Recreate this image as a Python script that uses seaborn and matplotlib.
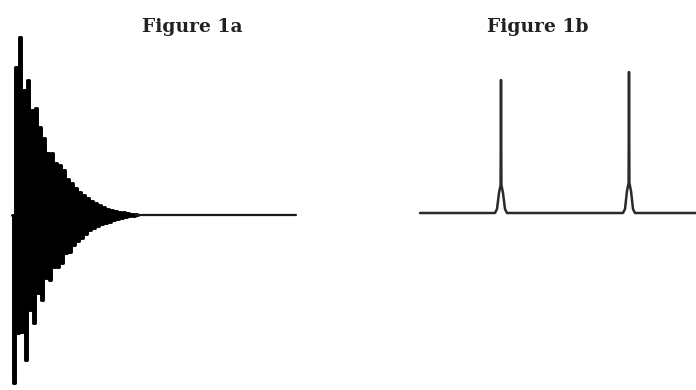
import numpy as np
import matplotlib
matplotlib.use("Agg")
import matplotlib.pyplot as plt
import seaborn as sns

sns.set_theme(style="white")

# Figure 1a: alternating extremes of the decaying signal (amplitude)
fid_values = [0, -168, 148, -118, 178, -117, 125, -145, 135, -95, 105, -108, 107, -78,
              88, -85, 77, -63, 62, -65, 62, -52, 52, -52, 50, -48, 45, -38, 36, -37,
              32, -30, 27, -26, 23, -23, 20, -19, 17, -15, 14, -13, 12, -11, 10, -9,
              8, -8, 6, -7, 5, -5, 4, -4, 3, -3, 3, -2, 2, -1, 1, -1, 1, 0]
fid_time = list(range(64))
# flat tail after the signal has died away
tail_time = [62, 142]
tail_values = [0, 0]

# Figure 1b: spectrum with two lines
spec_freq = [0, 75, 77, 79, 80.6, 81, 81.4, 83, 85, 87,
             203, 205, 207, 208.6, 209, 209.4, 211, 213, 215, 276]
spec_int = [0, 0, 4, 20, 28, 133, 28, 20, 4, 0,
            0, 4, 22, 30, 141, 30, 22, 4, 0, 0]

W, H = 696, 390
fig = plt.figure(figsize=(W / 100, H / 100), dpi=100)

ax1 = fig.add_axes([12 / W, 0, 284 / W, 1])
sns.lineplot(x=fid_time, y=fid_values, ax=ax1, color="black", linewidth=2.1,
             sort=False, estimator=None, drawstyle="steps-mid")
sns.lineplot(x=tail_time, y=tail_values, ax=ax1, color="#1a1a1a", linewidth=1.6,
             sort=False, estimator=None)
ax1.set_xlim(0, 142)
ax1.set_ylim(-175, 215)
ax1.axis("off")

ax2 = fig.add_axes([420 / W, 0, 276 / W, 1])
sns.lineplot(x=spec_freq, y=spec_int, ax=ax2, color="#2a2a2a", linewidth=1.8,
             sort=False, estimator=None)
ax2.set_xlim(0, 276)
ax2.set_ylim(-177, 213)
ax2.axis("off")

for line in ax1.lines + ax2.lines:
    line.set_clip_on(False)

fig.text(192 / W, 1 - 27 / H, "Figure 1a", ha="center", va="center",
         fontsize=13.5, fontweight="bold", family="DejaVu Serif", color="#222222")
fig.text(538 / W, 1 - 27 / H, "Figure 1b", ha="center", va="center",
         fontsize=13.5, fontweight="bold", family="DejaVu Serif", color="#222222")

fig.savefig("out.png", dpi=100, facecolor="white")
